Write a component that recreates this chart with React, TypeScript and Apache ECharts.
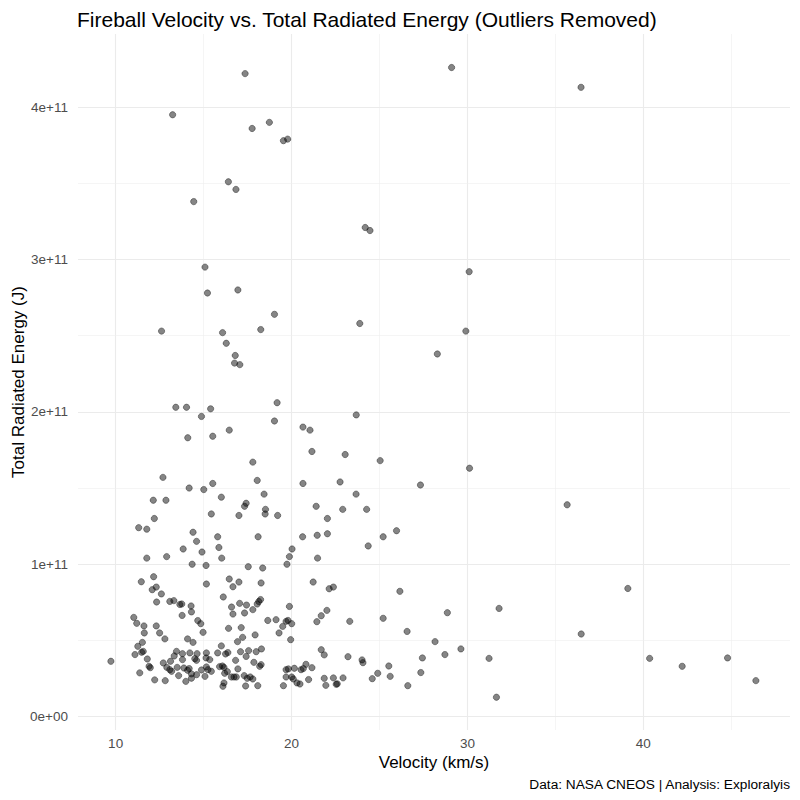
import React, { useEffect, useRef } from "react";
import * as echarts from "echarts";

// Velocity (km/s)
const velocity: number[] = [
  17.36, 29.10, 13.24, 17.76, 18.74, 19.54, 19.78, 16.41, 16.84, 14.44,
  24.19, 24.46, 15.08, 30.10, 15.22, 16.95, 19.03, 12.61, 16.08, 18.25,
  23.88, 29.91, 16.29, 28.29, 16.80, 16.76, 17.06, 36.46,
  13.42, 14.03, 15.40, 19.18, 14.88, 19.03, 20.65, 21.05, 16.46, 14.10,
  15.52, 21.16, 17.80, 12.69, 18.05, 15.52, 20.65,
  23.68, 23.05, 25.04, 30.12, 22.76, 27.33, 23.67, 22.91, 24.27, 22.04,
  22.04, 35.67, 25.97, 25.21, 24.36, 22.14, 22.38, 26.16, 39.12, 31.80,
  28.86, 22.01, 25.21, 23.31, 26.57, 36.47, 28.16, 23.21, 24.01, 24.06,
  27.44, 28.72, 29.63, 31.23, 25.53, 24.90, 24.59, 25.61, 27.35, 26.61,
  31.65, 22.38, 22.93, 22.54, 22.60, 40.36, 42.21, 44.79, 46.40,
  21.86, 21.86, 21.95,
  16.12, 16.59, 16.67, 17.05, 17.44, 17.33, 17.80, 18.05, 18.14, 18.24,
  19.88, 18.65, 19.12, 19.69, 19.80, 20.01, 19.50, 19.29, 19.95, 16.42,
  17.14, 17.93, 16.93, 17.22, 16.01, 15.80, 16.25, 16.38, 17.10, 17.56,
  17.42, 17.99, 18.29, 16.82, 17.86, 18.19, 18.27, 15.91, 16.07, 16.16,
  16.95, 16.35, 16.20, 16.58, 16.73, 16.86, 17.31, 17.48, 17.65, 17.80,
  16.16, 16.10, 17.39, 18.08, 19.69, 19.82, 20.16, 20.54, 20.67, 20.82,
  21.16, 21.69, 19.69, 20.01, 20.10, 20.31, 20.48, 20.97, 19.54, 21.44,
  21.69,
  12.08, 12.60, 12.33, 13.08, 13.31, 13.65, 13.76, 14.29, 14.31, 13.78,
  11.03, 11.20, 11.61, 11.63, 12.31, 12.50, 12.80, 14.67, 14.84, 14.97,
  14.09, 14.40, 11.52, 11.26, 11.48, 11.57, 11.10, 11.80, 9.73, 11.90,
  11.97, 11.37, 12.22, 12.82, 13.46, 13.80, 13.33, 13.12, 12.71, 12.91,
  13.08, 13.18, 13.50, 13.58, 13.88, 13.80, 14.22, 14.63, 14.50, 14.60,
  15.16, 15.14, 14.09, 14.18, 14.31, 14.60, 14.88, 15.16, 15.25, 13.99,
  14.31, 15.08, 15.44, 15.35,
  14.18, 15.01, 12.14, 12.86, 15.44, 12.20, 11.31, 11.77, 14.40, 14.60,
  13.84, 14.91, 11.77, 12.90, 14.35, 15.14, 12.16, 11.46, 12.31, 15.16,
  16.01, 18.44, 17.42, 17.33, 18.52, 18.50, 17.01, 19.21, 21.40, 15.80,
  18.10, 15.87, 16.03, 20.63, 21.46, 20.03, 19.88, 19.74, 21.48, 17.54,
  18.36, 16.46, 17.01, 16.67, 18.27, 21.23,
];

// Total radiated energy (J)
const energy: number[] = [
  4.22e11, 4.26e11, 3.95e11, 3.86e11, 3.90e11, 3.78e11, 3.79e11, 3.51e11, 3.46e11, 3.38e11,
  3.21e11, 3.19e11, 2.95e11, 2.92e11, 2.78e11, 2.80e11, 2.64e11, 2.53e11, 2.52e11, 2.54e11,
  2.58e11, 2.53e11, 2.45e11, 2.38e11, 2.37e11, 2.32e11, 2.31e11, 4.13e11,
  2.03e11, 2.03e11, 2.02e11, 2.06e11, 1.97e11, 1.94e11, 1.90e11, 1.88e11, 1.88e11, 1.83e11,
  1.84e11, 1.74e11, 1.67e11, 1.57e11, 1.55e11, 1.53e11, 1.53e11,
  1.98e11, 1.72e11, 1.68e11, 1.63e11, 1.54e11, 1.52e11, 1.46e11, 1.36e11, 1.36e11, 1.30e11,
  1.20e11, 1.39e11, 1.22e11, 1.18e11, 1.12e11, 8.39e10, 8.50e10, 8.22e10, 8.41e10, 7.10e10,
  6.82e10, 6.97e10, 6.45e10, 6.25e10, 5.59e10, 5.42e10, 4.92e10, 3.93e10, 3.72e10, 3.54e10,
  3.85e10, 4.07e10, 4.44e10, 3.82e10, 3.32e10, 2.84e10, 2.49e10, 2.64e10, 2.89e10, 2.03e10,
  1.27e10, 2.54e10, 2.54e10, 2.12e10, 2.15e10, 3.82e10, 3.30e10, 3.85e10, 2.36e10,
  4.05e10, 2.51e10, 2.05e10,
  7.85e10, 7.19e10, 6.73e10, 7.43e10, 7.32e10, 6.80e10, 7.02e10, 7.39e10, 7.55e10, 7.68e10,
  7.23e10, 6.31e10, 6.36e10, 6.25e10, 6.31e10, 6.10e10, 5.92e10, 5.49e10, 5.05e10, 5.79e10,
  5.84e10, 5.36e10, 4.92e10, 5.20e10, 4.64e10, 4.18e10, 4.11e10, 4.20e10, 4.26e10, 4.33e10,
  3.95e10, 4.26e10, 4.44e10, 3.69e10, 3.56e10, 3.30e10, 3.41e10, 3.28e10, 3.32e10, 3.23e10,
  3.13e10, 2.95e10, 2.84e10, 2.60e10, 2.60e10, 2.60e10, 2.69e10, 2.51e10, 2.60e10, 2.47e10,
  2.21e10, 1.99e10, 2.01e10, 2.03e10, 3.08e10, 3.13e10, 3.17e10, 3.08e10, 3.15e10, 3.43e10,
  3.21e10, 4.39e10, 2.60e10, 2.60e10, 2.47e10, 2.21e10, 2.14e10, 2.43e10, 2.03e10, 6.23e10,
  6.62e10,
  8.33e10, 8.05e10, 7.52e10, 7.56e10, 7.61e10, 7.36e10, 7.39e10, 7.26e10, 6.87e10, 6.64e10,
  6.51e10, 6.12e10, 5.95e10, 5.49e10, 5.95e10, 5.49e10, 5.10e10, 6.30e10, 6.10e10, 5.53e10,
  5.10e10, 4.87e10, 4.87e10, 4.61e10, 4.22e10, 4.28e10, 4.07e10, 3.78e10, 3.63e10, 3.30e10,
  3.21e10, 2.87e10, 2.41e10, 2.36e10, 4.28e10, 4.13e10, 3.98e10, 3.63e10, 3.52e10, 3.23e10,
  3.08e10, 2.97e10, 3.23e10, 2.69e10, 3.19e10, 3.74e10, 4.18e10, 4.13e10, 3.80e10, 3.69e10,
  4.18e10, 3.85e10, 3.04e10, 3.15e10, 2.80e10, 2.75e10, 3.06e10, 3.26e10, 3.08e10, 2.31e10,
  2.52e10, 2.64e10, 2.97e10, 3.74e10,
  1.50e11, 1.49e11, 1.42e11, 1.42e11, 1.33e11, 1.30e11, 1.24e11, 1.23e11, 1.21e11, 1.15e11,
  1.10e11, 1.08e11, 1.04e11, 1.05e11, 1.00e11, 9.92e10, 9.18e10, 8.85e10, 8.50e10, 8.70e10,
  1.44e11, 1.46e11, 1.40e11, 1.38e11, 1.36e11, 1.33e11, 1.32e11, 1.32e11, 1.38e11, 1.18e11,
  1.18e11, 1.11e11, 1.04e11, 1.18e11, 1.19e11, 1.10e11, 1.05e11, 1.00e11, 1.04e11, 9.84e10,
  9.75e10, 9.03e10, 8.83e10, 8.52e10, 8.77e10, 8.83e10,
];

const xMajor = [10, 20, 30, 40];
const xMinor = [15, 25, 35, 45];
const yMajor = [0, 1e11, 2e11, 3e11, 4e11];
const yMinor = [0.5e11, 1.5e11, 2.5e11, 3.5e11];
const yTickLabels = ["0e+00", "1e+11", "2e+11", "3e+11", "4e+11"];

const FONT = "'Liberation Sans', Arial, sans-serif";

export default function App() {
  const ref = useRef<HTMLDivElement>(null);

  useEffect(() => {
    if (!ref.current) return;
    const chart = echarts.init(ref.current, null, { renderer: "svg" });
    const points = velocity.map((v, i) => [v, energy[i]]);

    const gridLines = [
      ...xMajor.map((v) => ({ xAxis: v, lineStyle: { color: "#EBEBEB", width: 1.1, type: "solid" } })),
      ...xMinor.map((v) => ({ xAxis: v, lineStyle: { color: "#EFEFEF", width: 0.6, type: "solid" } })),
      ...yMajor.map((v) => ({ yAxis: v, lineStyle: { color: "#EBEBEB", width: 1.1, type: "solid" } })),
      ...yMinor.map((v) => ({ yAxis: v, lineStyle: { color: "#EFEFEF", width: 0.6, type: "solid" } })),
    ];

    chart.setOption({
      animation: false,
      backgroundColor: "#ffffff",
      textStyle: { fontFamily: FONT },
      title: {
        text: "Fireball Velocity vs. Total Radiated Energy (Outliers Removed)",
        left: 72,
        top: 4,
        textStyle: { fontFamily: FONT, fontSize: 21, fontWeight: "normal", color: "#000000" },
      },
      grid: { left: 78, right: 10, top: 34, bottom: 70, containLabel: false },
      xAxis: {
        type: "value",
        min: 7.86,
        max: 48.34,
        splitLine: { show: false },
        axisLine: { show: false },
        axisTick: { show: false },
        axisLabel: {
          customValues: xMajor,
          color: "#4D4D4D",
          fontSize: 13.5,
          fontFamily: FONT,
          margin: 6,
          formatter: (v: number) => String(v),
        },
      },
      yAxis: {
        type: "value",
        min: -0.88e10,
        max: 4.48e11,
        splitLine: { show: false },
        axisLine: { show: false },
        axisTick: { show: false },
        axisLabel: {
          customValues: yMajor,
          color: "#4D4D4D",
          fontSize: 13.5,
          fontFamily: FONT,
          margin: 10,
          formatter: (v: number) => {
            const idx = yMajor.indexOf(v);
            return idx >= 0 ? yTickLabels[idx] : "";
          },
        },
      },
      graphic: [
        {
          type: "text",
          x: 434,
          y: 762,
          style: {
            text: "Velocity (km/s)",
            fontFamily: FONT,
            fontSize: 17,
            fill: "#000000",
            textAlign: "center",
            textVerticalAlign: "middle",
          },
        },
        {
          type: "text",
          x: 18,
          y: 382,
          rotation: Math.PI / 2,
          style: {
            text: "Total Radiated Energy (J)",
            fontFamily: FONT,
            fontSize: 17,
            fill: "#000000",
            textAlign: "center",
            textVerticalAlign: "middle",
          },
        },
        {
          type: "text",
          x: 790,
          y: 784,
          style: {
            text: "Data: NASA CNEOS | Analysis: Exploralyis",
            fontFamily: FONT,
            fontSize: 13.7,
            fill: "#000000",
            textAlign: "right",
            textVerticalAlign: "middle",
          },
        },
      ],
      series: [
        {
          type: "scatter",
          data: [],
          silent: true,
          z: 0,
          markLine: {
            silent: true,
            z: 0,
            symbol: ["none", "none"],
            label: { show: false },
            animation: false,
            data: gridLines,
          },
        },
        {
          type: "scatter",
          data: points,
          z: 3,
          symbol: "circle",
          symbolSize: 6.3,
          itemStyle: {
            color: "rgba(0,0,0,0.6)",
            borderColor: "rgba(0,0,0,0.6)",
            borderWidth: 0.8,
          },
          emphasis: { disabled: true },
        },
      ],
    });

    return () => chart.dispose();
  }, []);

  return (
    <div
      ref={ref}
      style={{ position: "absolute", left: 0, top: 0, width: 800, height: 800 }}
    />
  );
}
